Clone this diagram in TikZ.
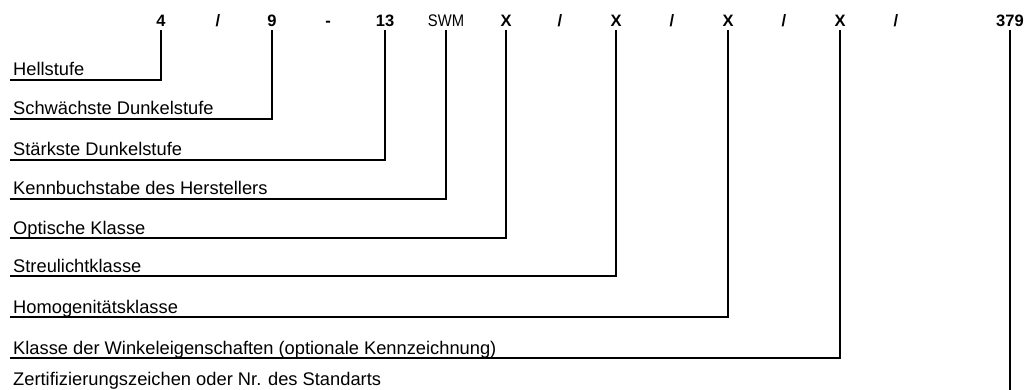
\documentclass[tikz,border=0pt]{standalone}
\usepackage{fontspec}
\setmainfont{Liberation Sans}
\begin{document}
\begin{tikzpicture}[x=1pt,y=-1pt,
  code/.style={font=\bfseries\fontsize{16.5}{16.5}\selectfont, inner xsep=0pt, inner ysep=4pt, anchor=base},
  coderegular/.style={font=\fontsize{16.8}{16.8}\selectfont, inner xsep=0pt, inner ysep=4pt, anchor=base},
  lbl/.style={font=\fontsize{18.3}{18.3}\selectfont, inner sep=0pt, anchor=base west},
  conn/.style={line width=1.8pt, line cap=rect}]
\useasboundingbox (0,0) rectangle (1025,390);
% top code
\node[code] (c4) at (161,27) {4};
\node[code] (s1) at (218,27) {/};
\node[code] (c9) at (272,27) {9};
\node[code] (m1) at (328,27) {-};
\node[code] (c13) at (385,27) {13};
\node[coderegular] (swm) at (446,27) {\scalebox{0.88}[1]{SWM}};
\node[code] (x1) at (506,27) {X};
\node[code] (s2) at (560,27) {/};
\node[code] (x2) at (616,27) {X};
\node[code] (s3) at (672,27) {/};
\node[code] (x3) at (728,27) {X};
\node[code] (s4) at (784,27) {/};
\node[code] (x4) at (840,27) {X};
\node[code] (s5) at (896,27) {/};
\node[code] (c379) at (1010,27) {379};
% labels
\node[lbl] (l1) at (13,76) {Hellstufe};
\node[lbl] (l2) at (13,115) {Schwächste Dunkelstufe};
\node[lbl] (l3) at (13,156) {Stärkste Dunkelstufe};
\node[lbl] (l4) at (13,195) {Kennbuchstabe des Herstellers};
\node[lbl] (l5) at (13,234) {Optische Klasse};
\node[lbl] (l6) at (13,272) {Streulichtklasse};
\node[lbl] (l7) at (13,313) {Homogenitätsklasse};
\node[lbl] (l8) at (13,354) {Klasse der Winkeleigenschaften (optionale Kennzeichnung)};
\node[lbl] (l9) at (13,385.5) {Zertifizierungszeichen oder Nr. des Standarts};
% line ends
\coordinate (e1) at (11,80);
\coordinate (e2) at (11,119);
\coordinate (e3) at (11,160);
\coordinate (e4) at (11,199);
\coordinate (e5) at (11,238);
\coordinate (e6) at (11,276);
\coordinate (e7) at (11,317);
\coordinate (e8) at (11,358);
\coordinate (e9) at (1010,400);
% connectors
\draw[conn] (c4.south) |- (e1);
\draw[conn] (c9.south) |- (e2);
\draw[conn] (c13.south) |- (e3);
\draw[conn] (swm.south) |- (e4);
\draw[conn] (x1.south) |- (e5);
\draw[conn] (x2.south) |- (e6);
\draw[conn] (x3.south) |- (e7);
\draw[conn] (x4.south) |- (e8);
\draw[conn] (c379.south) -- (e9);
\end{tikzpicture}
\end{document}
